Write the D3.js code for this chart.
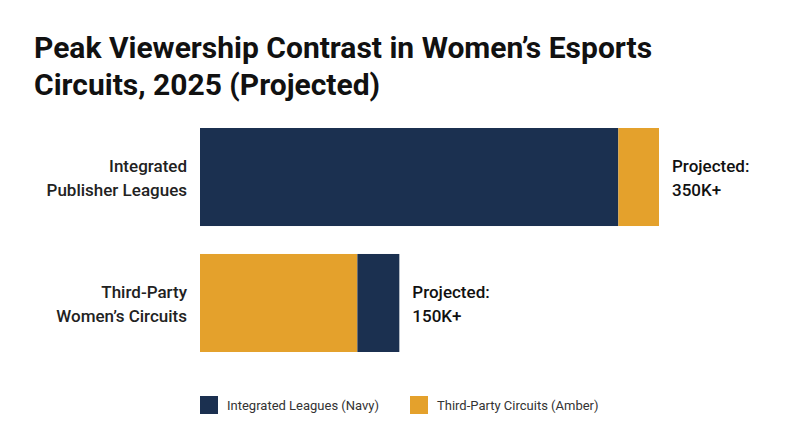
<!DOCTYPE html>
<html><head><meta charset="utf-8">
<script src="https://cdn.jsdelivr.net/npm/d3@7"></script>
<style>body{margin:0;background:#fff;font-family:Roboto,sans-serif}</style>
</head><body>
<script>
var categories = ["Integrated Publisher Leagues", "Third-Party Women's Circuits"];
var catLines = [["Integrated", "Publisher Leagues"], ["Third-Party", "Women\u2019s Circuits"]];
var navyValues = [319, 32];
var amberValues = [31, 120];
var totalLabels = ["350K+", "150K+"];
var seriesNames = ["Integrated Leagues (Navy)", "Third-Party Circuits (Amber)"];
var NAVY = "#1b3050", AMBER = "#e4a12c";

var svg = d3.select("body").append("svg").attr("width", 800).attr("height", 447);

svg.append("text").attr("x", 34).attr("y", 58).attr("font-size", 30).attr("font-weight", 700)
  .attr("fill", "#111").text("Peak Viewership Contrast in Women\u2019s Esports");
svg.append("text").attr("x", 34).attr("y", 95).attr("font-size", 30).attr("font-weight", 700)
  .attr("fill", "#111").text("Circuits, 2025 (Projected)");

var x = d3.scaleLinear().domain([0, 350]).range([200, 659]);
var y = d3.scaleBand().domain(categories).range([128, 352]).paddingInner(0.222);

var segs = [];
categories.forEach(function(c, i) {
  var order = i === 0 ? [[navyValues[i], NAVY], [amberValues[i], AMBER]]
                      : [[amberValues[i], AMBER], [navyValues[i], NAVY]];
  var acc = 0;
  order.forEach(function(o) { segs.push({c: c, x0: acc, x1: acc + o[0], color: o[1]}); acc += o[0]; });
});

svg.selectAll("rect.seg").data(segs).enter().append("rect")
  .attr("x", function(d) { return x(d.x0); })
  .attr("width", function(d) { return x(d.x1) - x(d.x0); })
  .attr("y", function(d) { return y(d.c); })
  .attr("height", y.bandwidth())
  .attr("fill", function(d) { return d.color; });

categories.forEach(function(c, i) {
  var cy = y(c) + y.bandwidth() / 2;
  var t = svg.append("text").attr("text-anchor", "end").attr("font-size", 17)
    .attr("font-weight", 500).attr("fill", "#222");
  catLines[i].forEach(function(l, j) {
    t.append("tspan").attr("x", 187).attr("y", cy - 5 + j * 24).text(l);
  });
  var tot = navyValues[i] + amberValues[i];
  var r = svg.append("text").attr("font-size", 17).attr("font-weight", 500).attr("fill", "#111");
  r.append("tspan").attr("x", x(tot) + 13).attr("y", cy - 5).text("Projected:");
  r.append("tspan").attr("x", x(tot) + 13).attr("y", cy + 19).text(totalLabels[i]);
});

var lx = [200, 410];
seriesNames.forEach(function(s, i) {
  svg.append("rect").attr("x", lx[i]).attr("y", 396).attr("width", 18).attr("height", 18)
    .attr("fill", i === 0 ? NAVY : AMBER);
  svg.append("text").attr("x", lx[i] + 27).attr("y", 410).attr("font-size", 13).attr("fill", "#333").text(s);
});
</script>
</body></html>
